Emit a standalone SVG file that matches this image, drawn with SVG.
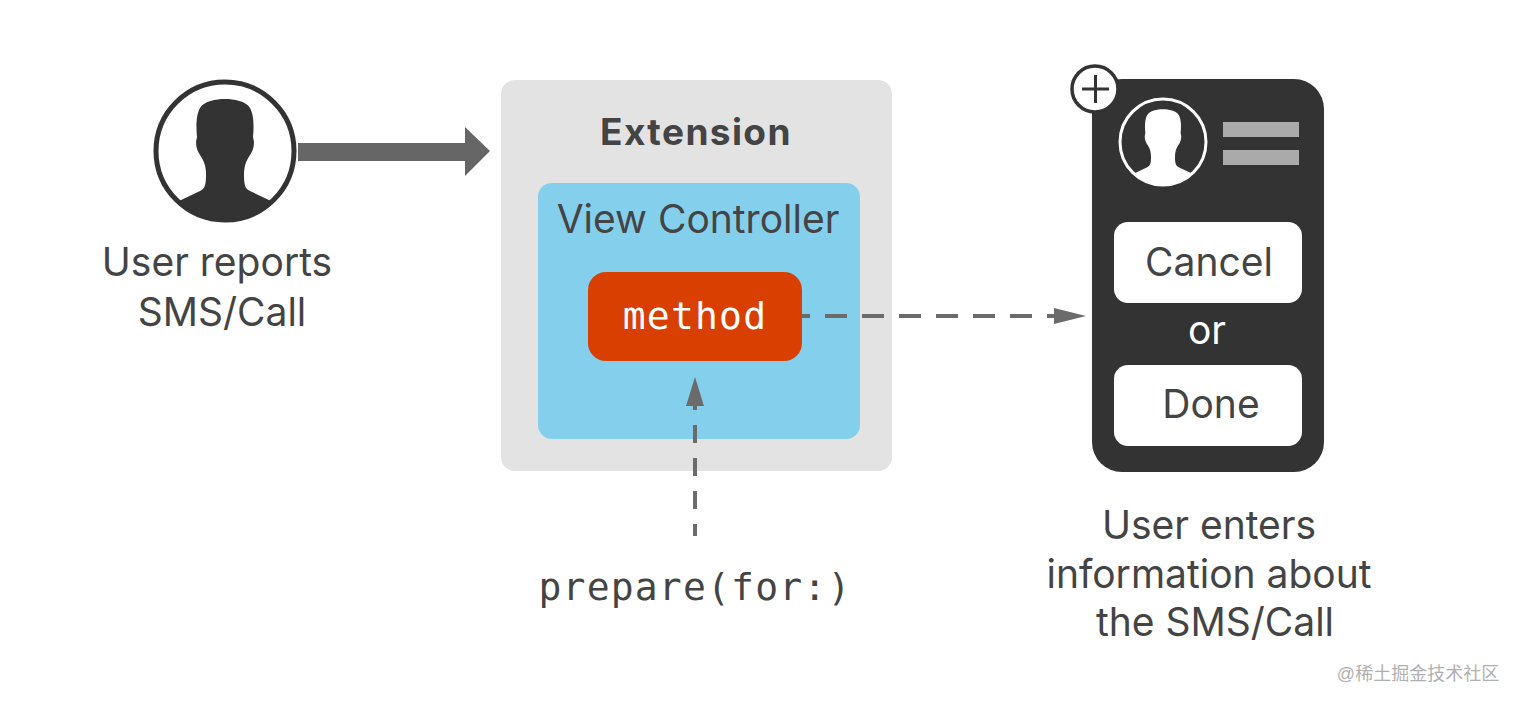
<svg xmlns="http://www.w3.org/2000/svg" width="1516" height="720" viewBox="0 0 1516 720">
<style>
.t{font-family:"Inter","Liberation Sans",sans-serif;fill:#444;font-size:39px;text-anchor:middle}
.m{font-family:"DejaVu Sans Mono","Liberation Mono",monospace;text-anchor:middle;font-size:38px;letter-spacing:1.2px}
.dash{fill:none;stroke:#6b6b6b;stroke-width:4}
.head{fill:#6b6b6b}
</style>
<defs>
<path id="bust" d="M0,-52 C9,-52 21,-50 25,-43 C29,-36 29,-24 28,-14 L29,-9 C29,-3 27,1 25,4 C21,10 19,15 19,24 C19,33 20,38 25,40 L46,50 A68,68 0 0 1 -46,50 L-25,40 C-20,38 -19,33 -19,24 C-19,15 -21,10 -25,4 C-27,1 -29,-3 -29,-9 L-28,-14 C-29,-24 -29,-36 -25,-43 C-21,-50 -9,-52 0,-52Z"/>
</defs>
<rect width="1516" height="720" fill="#fff"/>
<g id="user">
<circle cx="225" cy="151" r="69" fill="#fff" stroke="#333" stroke-width="5"/>
<use href="#bust" x="225" y="151" fill="#333"/>
<text class="t" x="217" y="276">User reports</text>
<text class="t" x="222" y="326">SMS/Call</text>
</g>
<g id="extension">
<rect x="501" y="80" width="391" height="391" rx="14" fill="#e3e3e3"/>
<text x="696" y="145" font-family="Inter,'Liberation Sans',sans-serif" font-weight="700" font-size="37" letter-spacing="1.4" fill="#444" text-anchor="middle">Extension</text>
</g>
<g id="view-controller">
<rect x="538" y="183" width="322" height="256" rx="14" fill="#84cfec"/>
<text class="t" x="698" y="233">View Controller</text>
</g>
<g id="method">
<rect x="588" y="272" width="214" height="89" rx="18" fill="#d93f00"/>
<text class="m" x="695" y="329" style="fill:#fff">method</text>
</g>
<g id="prepare">
<text class="m" x="695" y="600" fill="#444">prepare(for:)</text>
</g>
<g id="phone">
<rect x="1092" y="79" width="232" height="393" rx="30" fill="#333"/>
<circle cx="1095" cy="89" r="23" fill="#fff" stroke="#333" stroke-width="3.5"/>
<path d="M1095.500,75V103M1082,89H1109" stroke="#333" stroke-width="3" fill="none"/>
<circle cx="1163" cy="142" r="43" fill="#333" stroke="#fff" stroke-width="3"/>
<use href="#bust" transform="translate(1163,142) scale(.63)" fill="#fff"/>
<rect x="1223" y="122" width="76" height="15" fill="#aaa"/>
<rect x="1223" y="150" width="76" height="15" fill="#aaa"/>
<rect x="1114" y="222" width="188" height="81" rx="14" fill="#fff"/>
<text class="t" x="1209" y="276">Cancel</text>
<text class="t" x="1207" y="344" style="fill:#fff">or</text>
<rect x="1114" y="365" width="188" height="81" rx="14" fill="#fff"/>
<text class="t" x="1211" y="418">Done</text>
</g>
<g id="caption">
<text class="t" x="1209" y="539">User enters</text>
<text class="t" x="1209" y="588">information about</text>
<text class="t" x="1215" y="636">the SMS/Call</text>
</g>
<g id="connectors">
<path d="M298,143H465V127L490,151L465,176V161H298Z" fill="#666"/>
<path class="dash" d="M802,316H1056" stroke-dasharray="22 15" stroke-dashoffset="14"/>
<path class="head" d="M1054,308L1086,316L1054,324Z"/>
<path class="dash" d="M695,425V536" stroke-dasharray="18 15"/>
<path class="dash" d="M695,400V410"/>
<path class="head" d="M695,377L704,406H686Z"/>
</g>
<text x="1418" y="680" font-family="Liberation Sans,Noto Sans CJK SC,sans-serif" font-size="18" fill="#b0b0b0" text-anchor="middle">@稀土掘金技术社区</text>
</svg>
